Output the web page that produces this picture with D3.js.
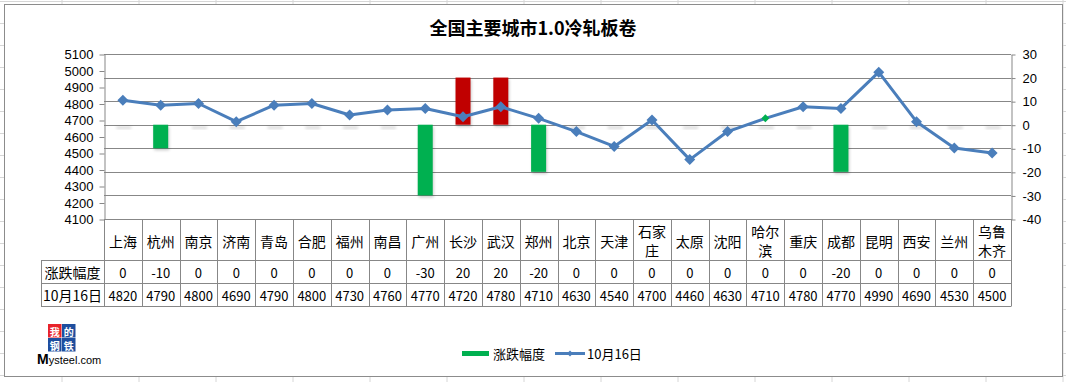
<!DOCTYPE html>
<html>
<head>
	<meta charset="utf-8">
	<script src="https://d3js.org/d3.v7.min.js"></script>
	<title>全国主要城市1.0冷轧板卷</title>
	<style>
		body { margin: 0; background: #fff; }
		svg { font-family: "Noto Sans CJK SC", "DejaVu Sans", sans-serif; }
		text { fill: #000; }
	</style>
</head>
<body>
	<div id="chart"></div>

	<script type="text/javascript">

		// data
		var cities = ["上海", "杭州", "南京", "济南", "青岛", "合肥", "福州", "南昌", "广州", "长沙", "武汉", "郑州",
			"北京", "天津", "石家庄", "太原", "沈阳", "哈尔滨", "重庆", "成都", "昆明", "西安", "兰州", "乌鲁木齐"];
		var changes = [0, -10, 0, 0, 0, 0, 0, 0, -30, 20, 20, -20, 0, 0, 0, 0, 0, 0, 0, -20, 0, 0, 0, 0];
		var prices = [4820, 4790, 4800, 4690, 4790, 4800, 4730, 4760, 4770, 4720, 4780, 4710,
			4630, 4540, 4700, 4460, 4630, 4710, 4780, 4770, 4990, 4690, 4530, 4500];
		var leftTicks = [4100, 4200, 4300, 4400, 4500, 4600, 4700, 4800, 4900, 5000, 5100];
		var rightTicks = [-40, -30, -20, -10, 0, 10, 20, 30];
		var seriesNames = ["涨跌幅度", "10月16日"];
		var title = "全国主要城市1.0冷轧板卷";

		var width = 1066, height = 382;
		var plotLeft = 104, plotRight = 1011, plotTop = 54, plotBottom = 219;
		var rowH = 23, catRowBottom = 260, headerLeft = 41;
		var lineColor = "#4A7EBB", gridColor = "#878787";

		var svg = d3.select("#chart").append("svg")
			.attr("width", width)
			.attr("height", height);

		var defs = svg.append("defs");
		defs.append("filter").attr("id", "blur")
			.attr("x", "-50%").attr("y", "-50%").attr("width", "200%").attr("height", "200%")
			.append("feGaussianBlur").attr("stdDeviation", 1.6);

		// spreadsheet cells behind the chart
		var sheet = svg.append("g");
		sheet.selectAll(".col").data(d3.range(62, width, 77)).enter().append("line")
			.attr("x1", function(d){ return d; }).attr("x2", function(d){ return d; })
			.attr("y1", 0).attr("y2", height)
			.attr("stroke", "#d6d6d6");
		sheet.selectAll(".row").data(d3.range(1, height, 22)).enter().append("line")
			.attr("y1", function(d){ return d + 0.5; }).attr("y2", function(d){ return d + 0.5; })
			.attr("x1", 0).attr("x2", width)
			.attr("stroke", "#d6d6d6");

		svg.append("rect")
			.attr("x", 4.5).attr("y", 4.5)
			.attr("width", 1058).attr("height", 372)
			.attr("fill", "#fff")
			.attr("stroke", "#8c8c8c");

		svg.append("text")
			.attr("x", 533).attr("y", 27)
			.attr("text-anchor", "middle")
			.attr("dominant-baseline", "central")
			.attr("font-size", 18)
			.attr("font-weight", "bold")
			.text(title);

		var xScale = d3.scaleBand().domain(cities).range([plotLeft, plotRight]);
		var yLeft = d3.scaleLinear().domain([4100, 5100]).range([plotBottom, plotTop]);
		var yRight = d3.scaleLinear().domain([-40, 30]).range([plotBottom, plotTop]);

		// gridlines follow the right axis
		svg.selectAll(".grid").data(rightTicks).enter().append("line")
			.attr("x1", plotLeft).attr("x2", plotRight)
			.attr("y1", function(d){ return Math.round(yRight(d)) + 0.5; })
			.attr("y2", function(d){ return Math.round(yRight(d)) + 0.5; })
			.attr("stroke", gridColor);

		var leftAxis = svg.append("g")
			.attr("transform", "translate(" + (plotLeft + 0.5) + ",0.5)")
			.call(d3.axisLeft(yLeft).tickValues(leftTicks).tickSize(5).tickSizeOuter(0).tickPadding(6)
				.tickFormat(d3.format("d")));
		var rightAxis = svg.append("g")
			.attr("transform", "translate(" + (plotRight + 0.5) + ",0.5)")
			.call(d3.axisRight(yRight).tickValues(rightTicks).tickSize(4).tickSizeOuter(0).tickPadding(7)
				.tickFormat(function(d){ return d < 0 ? "-" + Math.abs(d) : d; }));
		[leftAxis, rightAxis].forEach(function(ax){
			ax.selectAll("path, line").attr("stroke", gridColor);
			ax.selectAll("text").attr("font-size", 13).attr("font-family", "\"Liberation Sans\", sans-serif");
		});

		var data = cities.map(function(c, i){
			return { city: c, change: changes[i], price: prices[i] };
		});

		// bars with a soft shadow
		var barW = 15;
		svg.selectAll(".shadow").data(data).enter().append("rect")
			.attr("x", function(d){ return xScale(d.city) + xScale.bandwidth() / 2 - barW / 2 + 1; })
			.attr("y", function(d){ return Math.min(yRight(0), yRight(d.change)) + 2; })
			.attr("width", barW)
			.attr("height", function(d){ return Math.max(2, Math.abs(yRight(d.change) - yRight(0))); })
			.attr("fill", "#000")
			.attr("opacity", 0.2)
			.attr("filter", "url(#blur)");
		svg.selectAll(".bar").data(data).enter().append("rect")
			.attr("x", function(d){ return xScale(d.city) + xScale.bandwidth() / 2 - barW / 2; })
			.attr("y", function(d){ return Math.min(yRight(0), yRight(d.change)); })
			.attr("width", barW)
			.attr("height", function(d){ return Math.abs(yRight(d.change) - yRight(0)); })
			.attr("fill", function(d){ return d.change < 0 ? "#00B050" : "#C00000"; });

		var cx = function(d){ return xScale(d.city) + xScale.bandwidth() / 2; };
		var line = d3.line().x(cx).y(function(d){ return yLeft(d.price); });
		svg.append("path").datum(data)
			.attr("d", line)
			.attr("fill", "none")
			.attr("stroke", lineColor)
			.attr("stroke-width", 3)
			.attr("stroke-linejoin", "round");

		var diamond = function(r){ return "M0," + (-r) + "L" + r + ",0L0," + r + "L" + (-r) + ",0Z"; };
		svg.selectAll(".mark").data(data).enter().append("path")
			.attr("transform", function(d){ return "translate(" + cx(d) + "," + yLeft(d.price) + ")"; })
			.attr("d", function(d){ return d.city === "哈尔滨" ? diamond(4) : diamond(5.5); })
			.attr("fill", function(d){ return d.city === "哈尔滨" ? "#00B050" : lineColor; });

		// data table below the plot
		var table = svg.append("g");
		var tableBottom = catRowBottom + 2 * rowH;
		table.selectAll(".vline").data(cities.concat(["_end"])).enter().append("line")
			.attr("x1", function(d, i){ return Math.round(plotLeft + i * xScale.bandwidth()) + 0.5; })
			.attr("x2", function(d, i){ return Math.round(plotLeft + i * xScale.bandwidth()) + 0.5; })
			.attr("y1", plotBottom).attr("y2", tableBottom)
			.attr("stroke", gridColor);
		table.append("line")
			.attr("x1", headerLeft + 0.5).attr("x2", headerLeft + 0.5)
			.attr("y1", catRowBottom).attr("y2", tableBottom)
			.attr("stroke", gridColor);
		[catRowBottom, catRowBottom + rowH, tableBottom].forEach(function(y){
			table.append("line")
				.attr("x1", headerLeft).attr("x2", plotRight + 0.5)
				.attr("y1", y + 0.5).attr("y2", y + 0.5)
				.attr("stroke", gridColor);
		});

		table.selectAll(".cat").data(cities).enter().append("text")
			.attr("x", function(d){ return xScale(d) + xScale.bandwidth() / 2; })
			.attr("y", 241)
			.attr("text-anchor", "middle")
			.attr("font-size", 14)
			.each(function(d){
				var parts = d.length > 2 ? [d.slice(0, 2), d.slice(2)] : [d];
				var t = d3.select(this);
				parts.forEach(function(p, k){
					t.append("tspan")
						.attr("x", xScale(d) + xScale.bandwidth() / 2)
						.attr("y", parts.length > 1 ? 231 + k * 19 : 241)
						.attr("dominant-baseline", "central")
						.text(p);
				});
			});

		var rows = [changes, prices];
		rows.forEach(function(vals, r){
			var yc = catRowBottom + r * rowH + rowH / 2 + 0.5;
			table.append("text")
				.attr("x", (headerLeft + plotLeft) / 2).attr("y", yc)
				.attr("text-anchor", "middle").attr("dominant-baseline", "central")
				.attr("font-size", 14)
				.text(seriesNames[r]);
			table.selectAll(".v" + r).data(vals).enter().append("text")
				.attr("x", function(d, i){ return xScale(cities[i]) + xScale.bandwidth() / 2; })
				.attr("y", yc)
				.attr("text-anchor", "middle").attr("dominant-baseline", "central")
				.attr("font-size", 13)
				.text(function(d){ return d < 0 ? "-" + Math.abs(d) : d; });
		});

		// legend
		var legend = svg.append("g");
		legend.append("rect").attr("x", 462).attr("y", 351).attr("width", 27).attr("height", 5).attr("fill", "#00B050");
		legend.append("text").attr("x", 493).attr("y", 353.5).attr("dominant-baseline", "central")
			.attr("font-size", 13).text(seriesNames[0]);
		legend.append("line").attr("x1", 555).attr("x2", 585).attr("y1", 353.5).attr("y2", 353.5)
			.attr("stroke", lineColor).attr("stroke-width", 3);
		legend.append("path").attr("transform", "translate(570,353.5)").attr("d", diamond(3)).attr("fill", lineColor);
		legend.append("text").attr("x", 587).attr("y", 353.5).attr("dominant-baseline", "central")
			.attr("font-size", 13).text(seriesNames[1]);

		// mysteel logo
		var logo = svg.append("g");
		var cells = [["我", "#E8232A"], ["的", "#1E4E9E"], ["钢", "#1E4E9E"], ["铁", "#1E4E9E"]];
		cells.forEach(function(c, i){
			var lx = 48 + (i % 2) * 14, ly = 324 + Math.floor(i / 2) * 14;
			logo.append("rect").attr("x", lx).attr("y", ly).attr("width", 13.5).attr("height", 13.5).attr("fill", c[1]);
			logo.append("text").attr("x", lx + 6.75).attr("y", ly + 7).attr("text-anchor", "middle")
				.attr("dominant-baseline", "central").attr("font-size", 10).attr("font-weight", "bold")
				.style("fill", "#fff").text(c[0]);
		});
		var brand = logo.append("text").attr("x", 37).attr("y", 364).attr("font-family", "\"Liberation Sans\", sans-serif");
		brand.append("tspan").attr("font-size", 14).attr("font-weight", "bold").text("M");
		brand.append("tspan").attr("font-size", 11).text("ysteel.com");

	</script>

</body>
</html>
